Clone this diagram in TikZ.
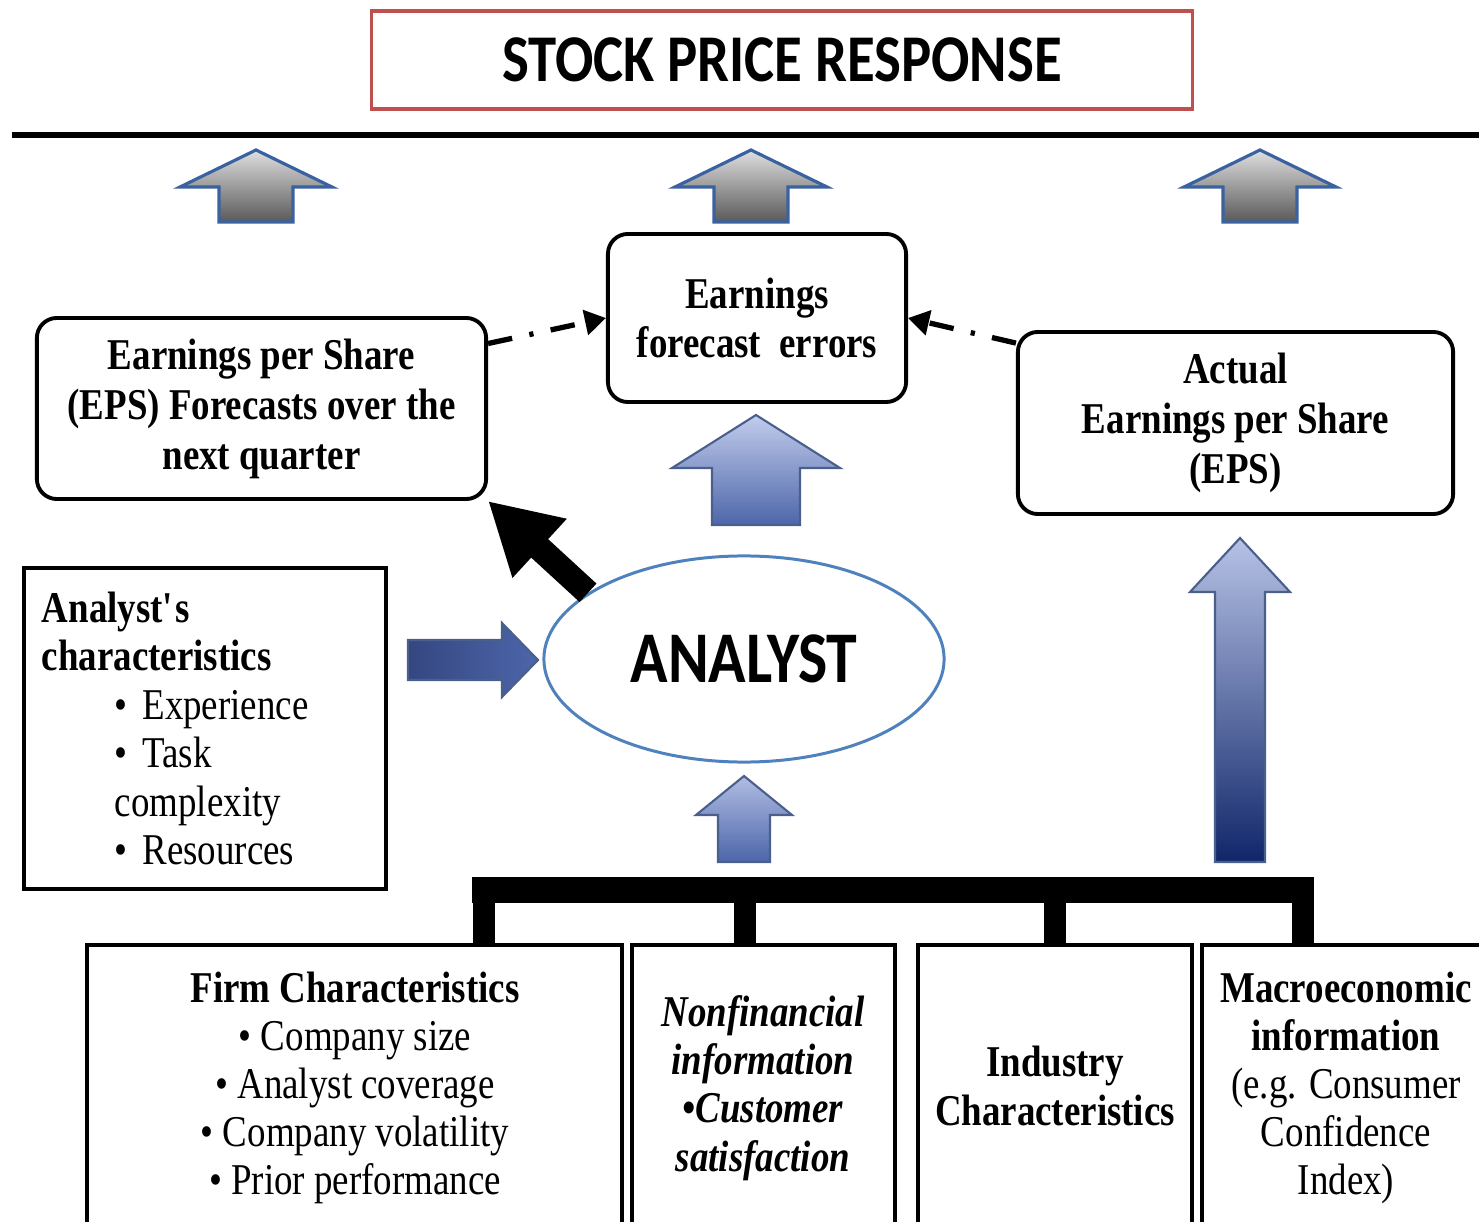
\documentclass[tikz,border=0pt]{standalone}
\usepackage{fontspec}
\setmainfont{Liberation Serif}[FakeStretch=0.84]
\newfontfamily\headfont{Carlito}[FakeStretch=0.85]
\usepackage{tikz}
\usetikzlibrary{arrows.meta,positioning,shapes.geometric}

\definecolor{titlered}{HTML}{C0504D}
\definecolor{ellblue}{HTML}{4F81BD}
\definecolor{arrowrim}{HTML}{3A62A0}
\definecolor{steelrim}{HTML}{4A5F8C}
\definecolor{paleblue}{HTML}{C2CCEC}
\definecolor{midblue}{HTML}{4D66AA}
\definecolor{navyblue}{HTML}{10266A}

\newcommand{\blockup}[7]{%
	\draw [#1] (#2,#3) -- (#2+#6,#4) -- (#2+#7,#4) -- (#2+#7,#5) -- (#2-#7,#5) -- (#2-#7,#4) -- (#2-#6,#4) -- cycle;}

\tikzset{
	titlebox/.style={draw=titlered, line width=0.9pt, minimum width=8.2cm, minimum height=0.98cm,
		font=\headfont\bfseries\fontsize{19}{22}\selectfont},
	roundbox/.style={draw, line width=1.1pt, rounded corners=0.2cm, align=center,
		font=\bfseries\fontsize{12.5}{14.2}\selectfont},
	charbox/.style={draw, line width=1.1pt, minimum width=3.62cm, minimum height=3.21cm,
		inner xsep=0.18cm, text width=3.26cm, align=left, font=\fontsize{12.5}{13.8}\selectfont},
	txt/.style={align=center, font=\fontsize{12.5}{13.7}\selectfont},
	frame/.style={draw, line width=1.1pt},
	grayarrow/.style={draw=arrowrim, line width=0.9pt, top color=gray!25, bottom color=gray!70!black},
	bluerim/.style={draw=steelrim, line width=0.6pt},
	linkdash/.style={line width=1.5pt, dash pattern=on 7pt off 5pt on 1.2pt off 5pt,
		-{Triangle[length=6pt,width=7pt]}},
	bigarrow/.style={line width=0.25cm, -{Triangle[length=0.7cm,width=0.75cm]}}
}

\begin{document}
\begin{tikzpicture}[x=0.01cm, y=-0.01cm]
		\useasboundingbox (0,0) rectangle (1479,1222);
		\clip (0,0) rectangle (1479,1222);

		\node [titlebox] (title) at (782,60) {STOCK PRICE RESPONSE};
		\draw [line width=1.5pt] (12,135) -- (1479,135);

		\foreach \cx in {256,751,1260} {
			\blockup{grayarrow}{\cx}{150}{187}{222}{76}{37}
		}

		\node [roundbox, minimum width=4.49cm, minimum height=1.81cm] (eps) at (261.5,408.5) {Earnings per Share\\(EPS) Forecasts over the\\next quarter};
		\node [roundbox, minimum width=2.98cm, minimum height=1.68cm] (errors) at (757,318) {Earnings\\forecast\ \ errors};
		\node [roundbox, minimum width=4.35cm, minimum height=1.82cm] (actual) at (1235.5,423) {Actual\\Earnings per Share\\(EPS)};
		\node [ellipse, draw=ellblue, line width=0.85pt, minimum width=4cm, minimum height=2.06cm, inner sep=0pt,
			font=\headfont\bfseries\fontsize{20.7}{24}\selectfont] (analyst) at (744,659) {ANALYST};
		\node [charbox] (traits) at (205,728.5) {\textbf{Analyst\textquotesingle s}\\\textbf{characteristics}\\
			\hspace*{0.73cm}\textbullet\ Experience\\\hspace*{0.73cm}\textbullet\ Task\\
			\hspace*{0.73cm}complexity\\\hspace*{0.73cm}\textbullet\ Resources};

		\draw [linkdash] (eps.16) to (errors.west);
		\draw [linkdash] (actual.160) to (errors.east);
		\draw [bigarrow] (analyst.157) to (eps.south east);

		\blockup{bluerim, top color=paleblue, bottom color=midblue}{756}{415}{468}{525}{84}{44}
		\blockup{bluerim, top color=paleblue!85!midblue, bottom color=midblue}{744}{776}{815}{862}{48}{26}
		\blockup{bluerim, top color=paleblue!90!midblue, bottom color=navyblue}{1240}{538}{592}{862}{50}{25}
		\draw [bluerim, left color=navyblue!85, middle color=paleblue, right color=midblue]
			(408,640) -- (502,640) -- (502,623) -- (538,660) -- (502,697) -- (502,680) -- (408,680) -- cycle;

		\fill (472,877) rectangle (1314,903);
		\foreach \lx in {484,745,1055,1303}
			\fill (\lx-11,877) rectangle (\lx+11,945);

		\draw [frame] (87,945) rectangle (622,1260);
		\draw [frame] (632,945) rectangle (895,1260);
		\draw [frame] (918,945) rectangle (1192,1260);
		\draw [frame] (1202,945) rectangle (1520,1260);

		\node [txt] (firm) at (355,1088) {\textbf{Firm Characteristics}\\\textbullet\ Company size\\\textbullet\ Analyst coverage\\\textbullet\ Company volatility\\\textbullet\ Prior performance};
		\node [txt, font=\bfseries\itshape\fontsize{12.5}{13.7}\selectfont] (nonfin) at (763,1088) {Nonfinancial\\information\\\textbullet Customer\\satisfaction};
		\node [txt, font=\bfseries\fontsize{12.5}{13.7}\selectfont] (industry) at (1055,1086) {Industry\\Characteristics};
		\node [txt] (macro) at (1346,1088) {\textbf{Macroeconomic}\\\textbf{information}\\(e.g. Consumer\\Confidence\\Index)};
\end{tikzpicture}
\end{document}
